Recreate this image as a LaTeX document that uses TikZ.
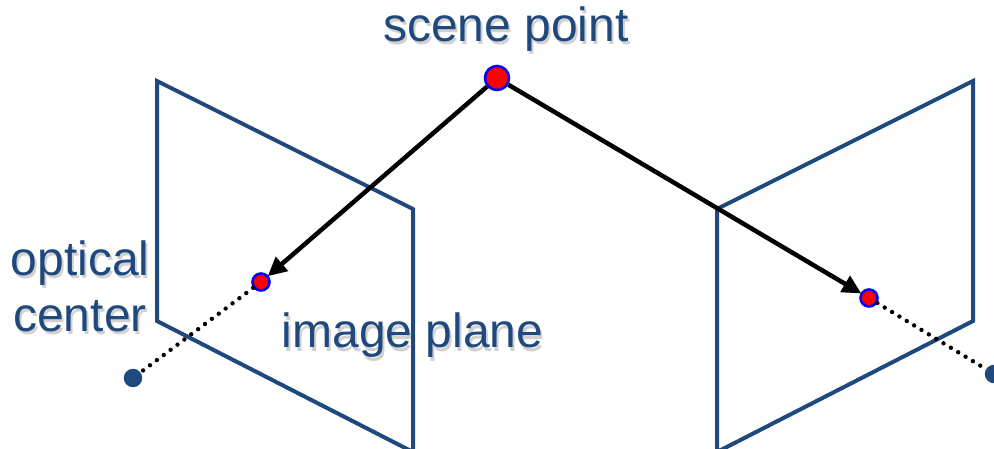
\documentclass[tikz,border=0pt]{standalone}
\usepackage{fontspec}
\setmainfont{Liberation Sans}
\usetikzlibrary{arrows.meta}
\definecolor{navy}{HTML}{1F497D}
\newcommand{\softshadow}[1]{\leavevmode\rlap{\hspace{2pt}\raisebox{-3pt}{\pgfsetfillopacity{0.18}\textcolor{black}{#1}\pgfsetfillopacity{1}}}#1}
\tikzset{
  x=1pt,y=-1pt,
  frame/.style={draw=navy,line width=4pt,line join=miter},
  ray/.style={draw=black,line width=4.5pt,-{Triangle[length=19pt,width=18pt]},shorten >=-1pt},
  dots/.style={draw=black,line width=4.4pt,line cap=round,dash pattern=on 0pt off 8.6pt},
  scenept/.style={circle,draw=blue,fill=red,line width=2.6pt,minimum size=24pt,inner sep=0pt},
  imgpt/.style={circle,draw=blue,fill=red,line width=2.6pt,minimum size=17pt,inner sep=0pt},
  cam/.style={circle,fill=navy,minimum size=18.5pt,inner sep=0pt},
  lbl/.style={text=navy,font=\fontsize{48}{56}\selectfont,align=center,inner sep=0pt,anchor=base}
}
\begin{document}
\begin{tikzpicture}
\useasboundingbox (0,0) rectangle (994,449);
\clip (0,0) rectangle (994,449);
% labels
\node[lbl] (scenelabel) at (506,42) {\softshadow{scene point}};
\node[lbl] (opticallabel) at (80,331) {\softshadow{optical}\\\softshadow{center}};
\node[lbl] (planelabel) at (412.5,348) {\softshadow{image plane}};
% image planes
\draw[frame] (157,81) -- (413,209) -- (413,452) -- (157,321) -- cycle;
\draw[frame] (973,81) -- (717,209) -- (717,452) -- (973,321) -- cycle;
% points
\node[cam] (camL) at (133,378) {};
\node[cam] (camR) at (994,374) {};
\node[imgpt] (ptL) at (261,282) {};
\node[imgpt] (ptR) at (869,298) {};
\node[scenept] (scene) at (497,78) {};
% connectors
\draw[dots] (ptL) -- (camL);
\draw[dots] (ptR) -- (camR);
\draw[ray] (scene) -- (ptL);
\draw[ray] (scene) -- (ptR);
\end{tikzpicture}
\end{document}
